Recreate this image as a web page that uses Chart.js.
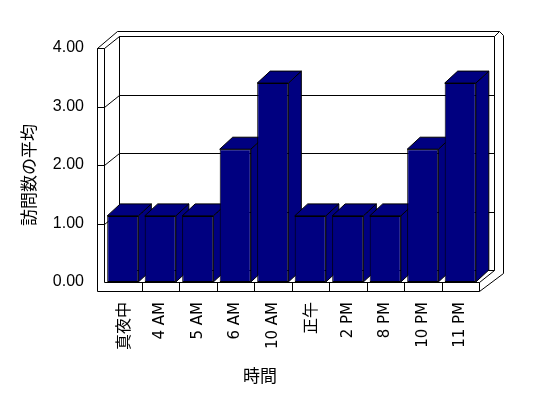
<!DOCTYPE html>
<html lang="ja">
<head>
<meta charset="utf-8">
<script src="https://cdn.jsdelivr.net/npm/chart.js@4"></script>
<style>
  html, body { margin: 0; padding: 0; background: #fff; }
</style>
</head>
<body>
<canvas id="chart" width="548" height="398"></canvas>
<script>
const categories = ['真夜中', '4 AM', '5 AM', '6 AM', '10 AM', '正午', '2 PM', '8 PM', '10 PM', '11 PM'];
const visitAverages = [1.13, 1.13, 1.13, 2.27, 3.40, 1.13, 1.13, 1.13, 2.27, 3.40];
const yTicks = [0, 1, 2, 3, 4];
const yTitle = '訪問数の平均';
const xTitle = '時間';

const NAVY = '#000080';
const FONT = '"Liberation Sans", "Noto Sans CJK JP", sans-serif';

// faux 3D: walls, floor, back gridlines and the side/top faces of each bar
const frame3d = {
    id: 'frame3d',
    beforeDatasetsDraw(chart) {
        const { ctx, chartArea: a, scales: { x, y } } = chart;
        const L = a.left, R = a.right, T = a.top, B = a.bottom;
        const wd = 15, hd = 12;      // wall depth
        const bd = 13, bh = 12;      // bar depth

        ctx.save();
        ctx.lineWidth = 1;
        ctx.strokeStyle = '#000';

        const line = (...pts) => {
            ctx.beginPath();
            ctx.moveTo(pts[0][0] + 0.5, pts[0][1] + 0.5);
            pts.slice(1).forEach(p => ctx.lineTo(p[0] + 0.5, p[1] + 0.5));
            ctx.stroke();
        };

        // left wall
        line([L - 7, T], [L - 7, B + 9]);
        line([L, T], [L, B]);
        line([L - 7, T], [L, T]);
        line([L - 7, T], [L + wd - 2, T - hd - 5]);
        // back wall
        line([L + wd - 2, T - hd - 5], [R + wd + 5, T - hd - 5], [R + wd + 9, T - hd - 1], [R + wd + 9, B - 9]);
        line([L + wd, B - hd], [L + wd, T - hd], [R + wd, T - hd], [R + wd, B - hd]);
        line([R + wd, T - hd], [R + wd + 5, T - hd - 5]);

        // gridlines on the left wall and back wall
        yTicks.filter(v => v > 0).forEach(v => {
            const yf = Math.round(y.getPixelForValue(v));
            line([L - 7, yf], [L, yf], [L + wd, yf - hd], [R + wd, yf - hd]);
        });

        // floor
        line([L, B], [R, B], [R, B + 9], [L - 7, B + 9]);
        line([L + wd, B - hd], [R + wd, B - hd]);
        line([R, B], [R + wd, B - hd]);
        line([R, B + 9], [R + wd + 9, B - 9]);
        for (let i = 1; i < categories.length; i++) {
            const xb = Math.round(x.getPixelForValue(i - 0.5));
            line([xb, B], [xb, B + 9]);
        }

        // side and top faces of the bars, left to right
        ctx.fillStyle = NAVY;
        chart.getDatasetMeta(0).data.forEach(bar => {
            const left = bar.x - bar.width / 2, right = bar.x + bar.width / 2;
            const top = bar.y, base = bar.base;
            ctx.beginPath();
            ctx.moveTo(right, top);
            ctx.lineTo(right + bd, top - bh);
            ctx.lineTo(right + bd, base - bh);
            ctx.lineTo(right, base);
            ctx.closePath();
            ctx.fill();
            ctx.stroke();
            ctx.beginPath();
            ctx.moveTo(left, top);
            ctx.lineTo(left + bd, top - bh);
            ctx.lineTo(right + bd, top - bh);
            ctx.lineTo(right, top);
            ctx.closePath();
            ctx.fill();
            ctx.stroke();
        });
        ctx.restore();
    },
    afterDraw(chart) {
        const { ctx } = chart;
        ctx.save();
        ctx.fillStyle = '#000';
        ctx.font = '17px "Noto Sans CJK JP", sans-serif';
        ctx.textAlign = 'center';
        ctx.textBaseline = 'middle';
        ctx.fillText(xTitle, 260, 376);
        ctx.translate(29, 175);
        ctx.rotate(-Math.PI / 2);
        ctx.fillText(yTitle, 0, 0);
        ctx.restore();
    }
};

// latin labels a bit wider, CJK labels a bit larger, as in the original
function xTickFont(c) {
    const label = categories[c.index] || '';
    if (/[^\x00-\x7f]/.test(label)) {
        return { family: '"Noto Sans CJK JP", sans-serif', size: 16 };
    }
    return { family: '"DejaVu Sans", sans-serif', size: 15 };
}

new Chart(document.getElementById('chart'), {
    type: 'bar',
    data: {
        labels: categories,
        datasets: [{
            data: visitAverages,
            backgroundColor: NAVY,
            borderColor: '#000',
            borderWidth: 1,
            borderSkipped: false,
            barPercentage: 0.83,
            categoryPercentage: 1
        }]
    },
    options: {
        responsive: false,
        animation: false,
        layout: { padding: { top: 48, right: 69, left: 0, bottom: 0 } },
        plugins: {
            legend: { display: false },
            tooltip: { enabled: false }
        },
        scales: {
            x: {
                grid: { display: false, drawTicks: false },
                border: { display: false },
                ticks: {
                    autoSkip: false,
                    minRotation: 90,
                    maxRotation: 90,
                    padding: 20,
                    color: '#000',
                    font: xTickFont
                },
                afterFit: s => { s.height = 116; }
            },
            y: {
                min: yTicks[0],
                max: yTicks[yTicks.length - 1],
                grid: { display: false, drawTicks: false },
                border: { display: false },
                ticks: {
                    stepSize: 1,
                    padding: 20,
                    color: '#000',
                    font: { family: FONT, size: 16 },
                    callback: v => v.toFixed(2)
                },
                afterFit: s => { s.width = 104; }
            }
        }
    },
    plugins: [frame3d]
});
</script>
</body>
</html>
